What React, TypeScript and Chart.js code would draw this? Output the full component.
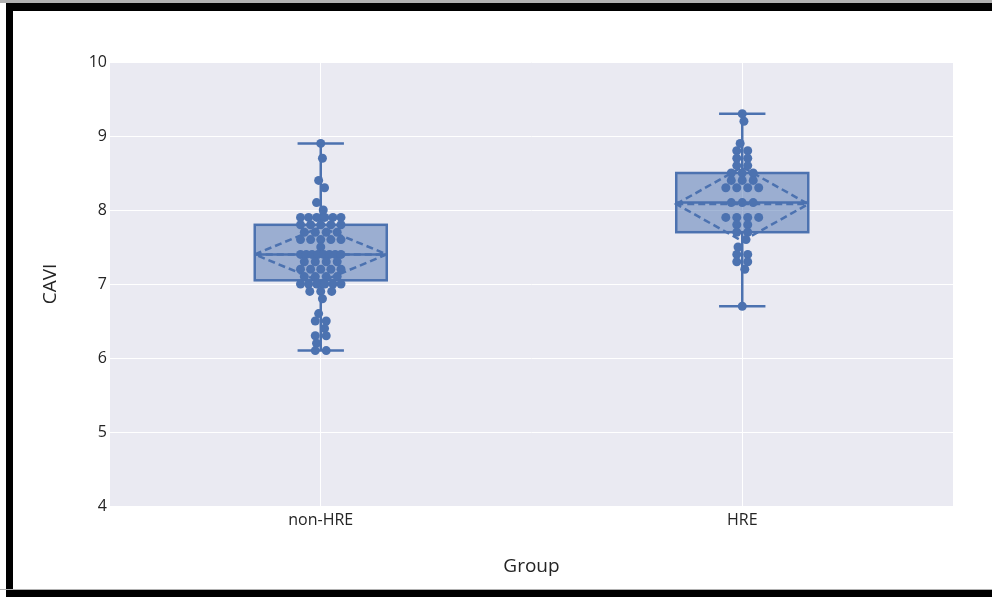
import React, { useEffect, useRef } from "react";
import { Chart, registerables } from "chart.js";

Chart.register(...registerables);

// ---- data ----
const categories = ["non-HRE", "HRE"];

const nonHreValues = [
  8.9, 8.7, 8.4, 8.3, 8.1, 8.0,
  7.9, 7.9, 7.9, 7.9, 7.9, 7.9,
  7.8, 7.8, 7.8, 7.8, 7.8,
  7.7, 7.7, 7.7, 7.7,
  7.6, 7.6, 7.6, 7.6, 7.6,
  7.5,
  7.4, 7.4, 7.4, 7.4, 7.4, 7.4, 7.4, 7.4,
  7.3, 7.3, 7.3, 7.3,
  7.2, 7.2, 7.2, 7.2, 7.2,
  7.1, 7.1, 7.1, 7.1,
  7.0, 7.0, 7.0, 7.0, 7.0, 7.0,
  6.9, 6.9, 6.9,
  6.8, 6.6, 6.5, 6.5, 6.4, 6.3, 6.3, 6.2, 6.1, 6.1,
];

const hreValues = [
  9.3, 9.2, 8.9, 8.8, 8.8, 8.7, 8.7, 8.6, 8.6,
  8.5, 8.5, 8.5, 8.4, 8.4, 8.4,
  8.3, 8.3, 8.3, 8.3,
  8.1, 8.1, 8.1,
  7.9, 7.9, 7.9, 7.9,
  7.8, 7.8, 7.7, 7.7, 7.6, 7.5,
  7.4, 7.4, 7.3, 7.3, 7.2, 6.7,
];

const boxLowerFence = [6.1, 6.7];
const boxQ1 = [7.05, 7.7];
const boxMedian = [7.4, 8.1];
const boxQ3 = [7.8, 8.5];
const boxUpperFence = [8.9, 9.3];
const boxMean = [7.4, 8.08];
const boxSD = [0.37, 0.5];

const yTickValues = [4, 5, 6, 7, 8, 9, 10];

// ---- styling ----
const BLUE = "#4C72B0";
const BOX_FILL = "rgba(76,114,176,0.5)";
const PLOT_BG = "rgb(234,234,242)";
const TEXT = "rgb(36,36,36)";
const FONT = "'Open Sans', sans-serif";
const BOX_HALF = 0.1566; // in category units
const CAP_HALF = 0.055;

function jitterPoints(values: number[], center: number) {
  const counts: Record<string, number> = {};
  values.forEach((v) => (counts[v.toFixed(2)] = (counts[v.toFixed(2)] || 0) + 1));
  const seen: Record<string, number> = {};
  let single = 0;
  return values.map((v) => {
    const key = v.toFixed(2);
    const k = counts[key];
    const j = seen[key] || 0;
    seen[key] = j + 1;
    let off: number;
    if (k === 1) {
      off = [0, 0.004, -0.005, 0.009, -0.01, 0.006][single % 6];
      single++;
    } else {
      const spread = Math.min(0.048, 0.013 * (k - 1));
      off = -spread + (2 * spread * j) / (k - 1);
    }
    return { x: center + off, y: v };
  });
}

const boxPlugin = {
  id: "boxPlugin",
  beforeDraw(chart: any) {
    const { ctx, chartArea } = chart;
    ctx.save();
    ctx.fillStyle = PLOT_BG;
    ctx.fillRect(chartArea.left, chartArea.top, chartArea.right - chartArea.left, chartArea.bottom - chartArea.top);
    ctx.restore();
  },
  beforeDatasetsDraw(chart: any) {
    const { ctx } = chart;
    const xs = chart.scales.x;
    const ys = chart.scales.y;
    ctx.save();
    ctx.strokeStyle = BLUE;
    ctx.lineWidth = 2.5;
    categories.forEach((_, i) => {
      const x0 = xs.getPixelForValue(i - BOX_HALF);
      const x1 = xs.getPixelForValue(i + BOX_HALF);
      const xc = xs.getPixelForValue(i);
      const yq1 = ys.getPixelForValue(boxQ1[i]);
      const yq3 = ys.getPixelForValue(boxQ3[i]);
      const ymed = ys.getPixelForValue(boxMedian[i]);
      const ylo = ys.getPixelForValue(boxLowerFence[i]);
      const yhi = ys.getPixelForValue(boxUpperFence[i]);
      const cx0 = xs.getPixelForValue(i - CAP_HALF);
      const cx1 = xs.getPixelForValue(i + CAP_HALF);
      ctx.setLineDash([]);
      ctx.fillStyle = BOX_FILL;
      ctx.fillRect(x0, yq3, x1 - x0, yq1 - yq3);
      ctx.strokeRect(x0, yq3, x1 - x0, yq1 - yq3);
      ctx.beginPath();
      ctx.moveTo(x0, ymed);
      ctx.lineTo(x1, ymed);
      ctx.moveTo(xc, yq3);
      ctx.lineTo(xc, yhi);
      ctx.moveTo(xc, yq1);
      ctx.lineTo(xc, ylo);
      ctx.moveTo(cx0, yhi);
      ctx.lineTo(cx1, yhi);
      ctx.moveTo(cx0, ylo);
      ctx.lineTo(cx1, ylo);
      ctx.stroke();
      const ym = ys.getPixelForValue(boxMean[i]);
      const ysdHi = ys.getPixelForValue(boxMean[i] + boxSD[i]);
      const ysdLo = ys.getPixelForValue(boxMean[i] - boxSD[i]);
      ctx.setLineDash([7, 4]);
      ctx.beginPath();
      ctx.moveTo(x0, ym);
      ctx.lineTo(x1, ym);
      ctx.moveTo(x0, ym);
      ctx.lineTo(xc, ysdHi);
      ctx.lineTo(x1, ym);
      ctx.lineTo(xc, ysdLo);
      ctx.closePath();
      ctx.stroke();
    });
    ctx.restore();
  },
};

export default function App() {
  const ref = useRef<HTMLCanvasElement>(null);
  useEffect(() => {
    document.body.style.margin = "0";
    const canvas = ref.current!;
    const chart = new Chart(canvas, {
      type: "scatter",
      data: {
        datasets: [
          {
            label: categories[0],
            data: jitterPoints(nonHreValues, 0),
            backgroundColor: BLUE,
            borderColor: BLUE,
            pointRadius: 4.5,
            borderWidth: 0,
          },
          {
            label: categories[1],
            data: jitterPoints(hreValues, 1),
            backgroundColor: BLUE,
            borderColor: BLUE,
            pointRadius: 4.5,
            borderWidth: 0,
          },
        ],
      },
      options: {
        animation: false,
        responsive: false,
        devicePixelRatio: 1,
        layout: { padding: { left: 39, right: 39, top: 62, bottom: 19 } },
        plugins: { legend: { display: false }, tooltip: { enabled: false } },
        scales: {
          x: {
            type: "linear",
            min: -0.5,
            max: 1.5,
            afterBuildTicks: (s: any) => {
              s.ticks = categories.map((_, i) => ({ value: i }));
            },
            afterFit: (s: any) => {
              s.height = 72;
            },
            grid: { color: "#ffffff", lineWidth: 1, drawTicks: false },
            border: { display: false },
            ticks: {
              padding: 5,
              color: TEXT,
              font: { family: FONT, size: 16 },
              callback: (v: any) => categories[Math.round(Number(v))] ?? "",
            },
            title: {
              display: true,
              text: "Group",
              color: TEXT,
              font: { family: FONT, size: 19 },
              padding: 0,
            },
          },
          y: {
            type: "linear",
            min: 4,
            max: 10,
            afterBuildTicks: (s: any) => {
              s.ticks = yTickValues.map((v) => ({ value: v }));
            },
            afterFit: (s: any) => {
              s.width = 71;
            },
            grid: { color: "#ffffff", lineWidth: 1, drawTicks: false },
            border: { display: false },
            ticks: {
              padding: 3,
              color: TEXT,
              font: { family: FONT, size: 16 },
            },
            title: {
              display: true,
              text: "CAVI",
              color: TEXT,
              font: { family: FONT, size: 19 },
              padding: 0,
            },
          },
        },
      },
      plugins: [boxPlugin],
    });
    return () => chart.destroy();
  }, []);

  return (
    <div style={{ position: "fixed", left: 0, top: 0, width: 992, height: 597, background: "#fff", overflow: "hidden" }}>
      <canvas ref={ref} width={992} height={597} style={{ position: "absolute", left: 0, top: 0, width: 992, height: 597 }} />
      <div style={{ position: "absolute", left: 0, top: 0, width: 992, height: 3, background: "#b0b0b0" }} />
      <div style={{ position: "absolute", left: 6, top: 3, width: 986, height: 8, background: "#000" }} />
      <div style={{ position: "absolute", left: 6, top: 3, width: 7, height: 594, background: "#000" }} />
      <div style={{ position: "absolute", left: 0, top: 589, width: 992, height: 1, background: "#b0b0b0" }} />
      <div style={{ position: "absolute", left: 6, top: 590, width: 986, height: 7, background: "#000" }} />
    </div>
  );
}
